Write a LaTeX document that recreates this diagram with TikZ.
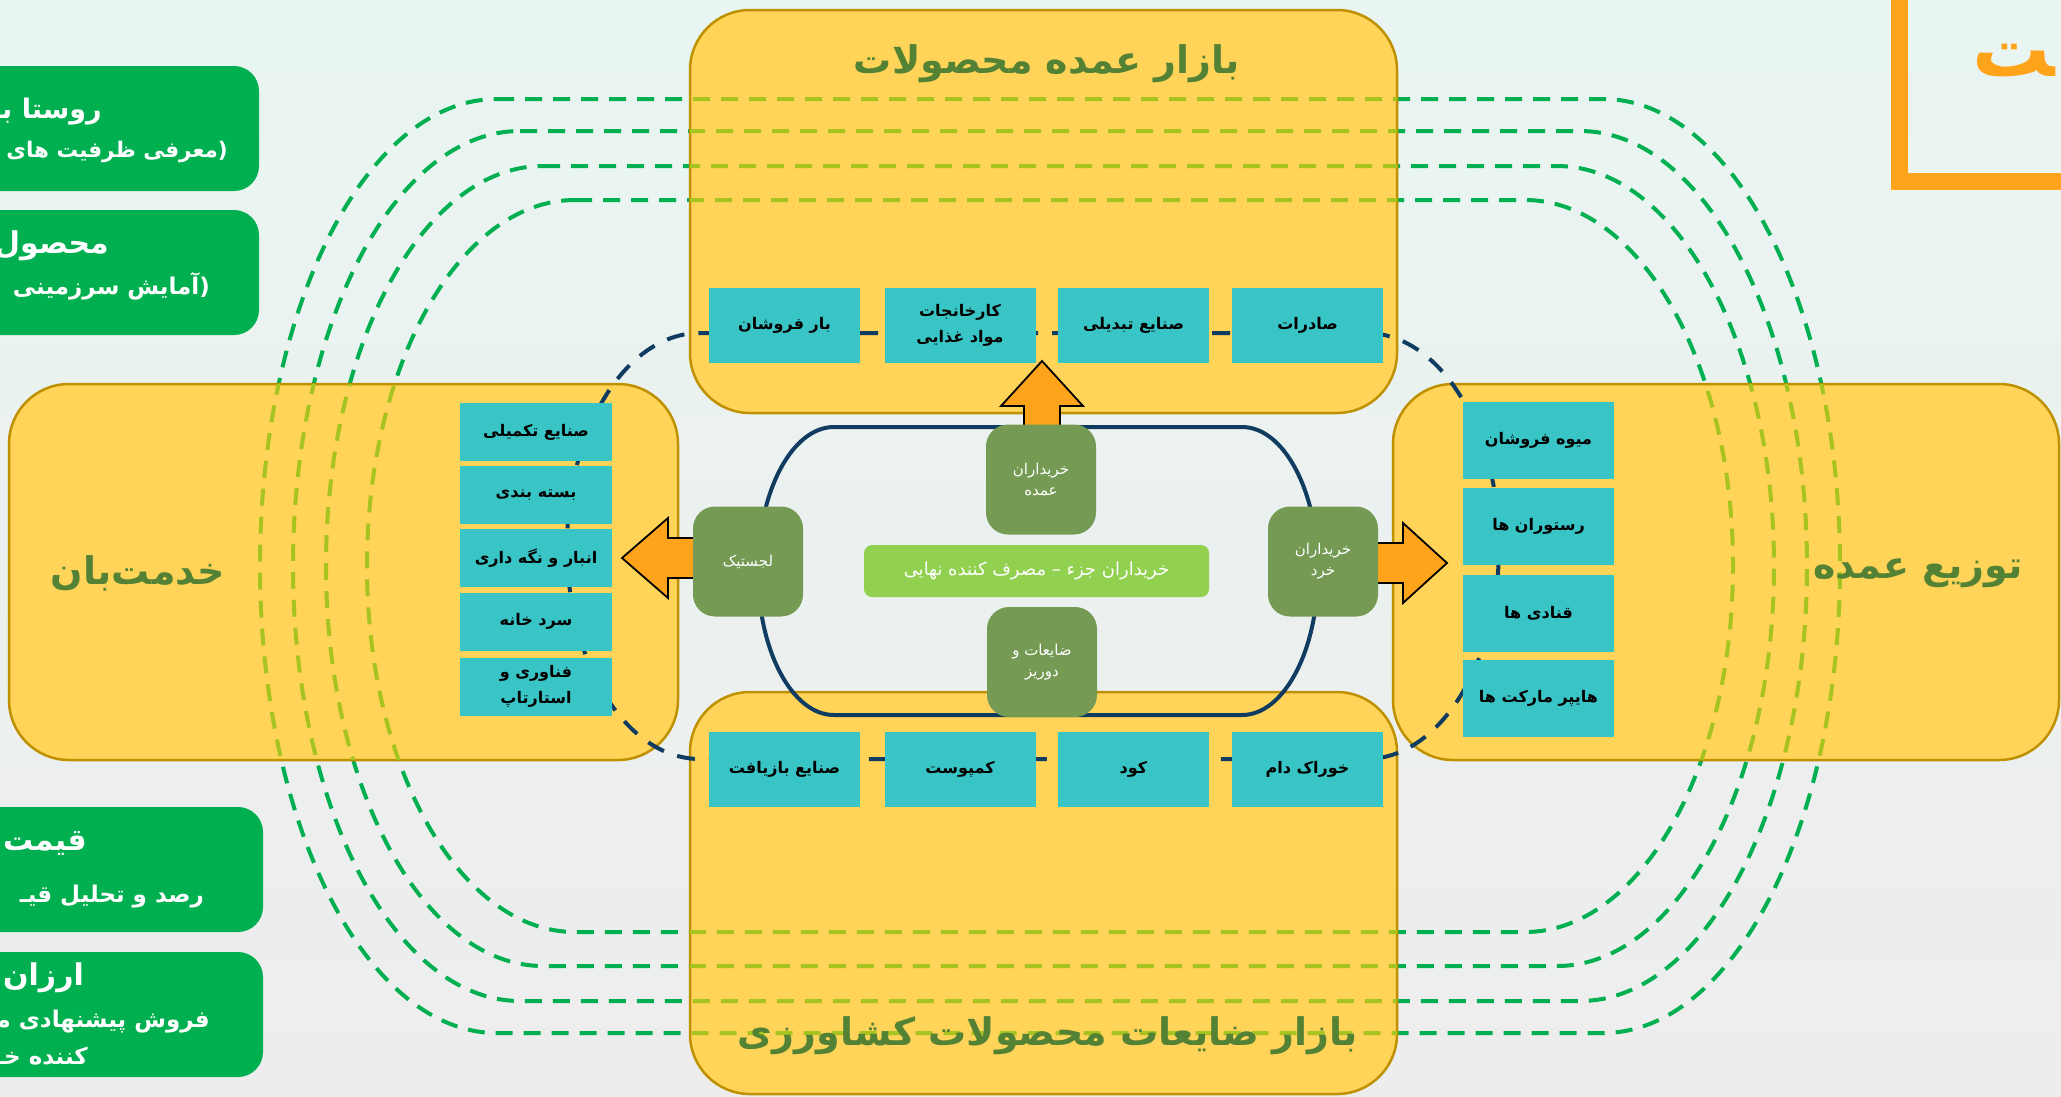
\documentclass[tikz,border=0pt]{standalone}
\usepackage{fontspec}
\newfontfamily\farsi[Script=Arabic]{DejaVu Sans}
\TeXXeTstate=1
\newcommand\myrl[1]{\beginR#1\endR}
\newcommand\mystad[5]{(#1-#3,#2-#5) -- (#1+#3,#2-#5) arc[start angle=90,end angle=-90,x radius=#4pt,y radius=#5pt] -- (#1-#3,#2+#5) arc[start angle=270,end angle=90,x radius=#4pt,y radius=#5pt] -- cycle}
\definecolor{dgreen}{RGB}{0,176,80}
\definecolor{ygreen}{RGB}{166,195,32}
\definecolor{yelc}{RGB}{255,212,88}
\definecolor{goldc}{RGB}{191,144,0}
\definecolor{tealc}{RGB}{57,196,198}
\definecolor{navyc}{RGB}{16,60,98}
\definecolor{olivec}{RGB}{116,154,84}
\definecolor{lgreen}{RGB}{146,208,80}
\definecolor{orangec}{RGB}{255,163,26}
\definecolor{titlec}{RGB}{84,130,53}
\tikzset{
 loopline/.style={line width=4pt, dash pattern=on 17pt off 11pt},
 navyloop/.style={navyc, line width=4pt, dash pattern=on 18pt off 14pt},
 ybox/.style={fill=yelc, draw=goldc, line width=2.5pt, rounded corners=60pt},
 tbox/.style={fill=tealc, inner sep=0pt, align=center, text=black, font=\farsi\bfseries\fontsize{16}{26}\selectfont},
 gnode/.style={fill=olivec, rounded corners=22pt, inner sep=0pt, align=center, text=white, minimum width=110pt, minimum height=110pt, font=\farsi\fontsize{15}{21}\selectfont},
 barnode/.style={fill=lgreen, rounded corners=8pt, inner sep=0pt, text=white, minimum width=345pt, minimum height=52pt, font=\farsi\fontsize{18}{22}\selectfont},
 blockarrow/.style={fill=orangec, draw=black, line width=1.8pt},
 ttl/.style={text=titlec, font=\farsi\bfseries\fontsize{38}{44}\selectfont, inner sep=0pt},
 gbox/.style={fill=dgreen, rounded corners=25pt},
 gbig/.style={text=white, anchor=east, inner sep=0pt, font=\farsi\bfseries\fontsize{30}{34}\selectfont},
 gsmall/.style={text=white, anchor=east, inner sep=0pt, font=\farsi\bfseries\fontsize{23}{27}\selectfont},
}
\begin{document}
\begin{tikzpicture}[x=1pt,y=-1pt]
\useasboundingbox (0,0) rectangle (2061,1096);
\clip (0,0) rectangle (2061,1096);
\shade[top color={rgb,255:red,233;green,245;blue,242}, middle color=white, bottom color={rgb,255:red,237;green,237;blue,237}] (0,0) rectangle (2061,1096);

% green dashed loops
\foreach \sa/\ra/\ha in {553/237/467,530/227/435,507/217/400,475/208/366}
  \draw[loopline, dgreen] \mystad{1050}{566}{\sa}{\ra}{\ha};

% yellow boxes
\draw[ybox] (9,384) rectangle (678,760);
\draw[ybox] (1393,384) rectangle (2059,760);
\draw[ybox] (690,10) rectangle (1397,413);
\draw[ybox] (690,692) rectangle (1397,1094);

% dashes seen through the yellow boxes
\begin{scope}
\clip[rounded corners=60pt] (9,384) rectangle (678,760) (1393,384) rectangle (2059,760) (690,10) rectangle (1397,413) (690,692) rectangle (1397,1094);
\foreach \sa/\ra/\ha in {553/237/467,530/227/435,507/217/400,475/208/366}
  \draw[loopline, ygreen] \mystad{1050}{566}{\sa}{\ra}{\ha};
\end{scope}

% titles
\node[ttl] (ttop) at (1047,64) {\myrl{بازار عمده محصولات}};
\node[ttl] (tbot) at (1048,1036) {\myrl{بازار ضایعات محصولات کشاورزی}};
\node[ttl] (tleft) at (138,573) {\myrl{خدمت^^^^200cبان}};
\node[ttl] (tright) at (1918,573) {\myrl{توزیع عمده}};

% navy loops
\draw[navyloop] \mystad{1033}{546}{333}{133}{213};
\draw[navyc, line width=4pt] \mystad{1038}{571}{204}{76}{144};

% block arrows
\draw[blockarrow] (1042,361) -- (1083,406) -- (1060,406) -- (1060,450) -- (1024,450) -- (1024,406) -- (1001,406) -- cycle;
\draw[blockarrow] (622,558) -- (668,518) -- (668,538) -- (720,538) -- (720,578) -- (668,578) -- (668,598) -- cycle;
\draw[blockarrow] (1447,563) -- (1403,523) -- (1403,543) -- (1350,543) -- (1350,583) -- (1403,583) -- (1403,603) -- cycle;

% teal boxes
\begin{scope}[every node/.append style={tbox, minimum width=151pt, minimum height=75pt}]
\node (t1) at (784.5,325.5) {\myrl{بار فروشان}};
\node (t2) at (960,325.5) {\myrl{کارخانجات}\\\myrl{مواد غذایی}};
\node (t3) at (1133.5,325.5) {\myrl{صنایع تبدیلی}};
\node (t4) at (1307.5,325.5) {\myrl{صادرات}};
\node (b1) at (784.5,769) {\myrl{صنایع بازیافت}};
\node (b2) at (960,769) {\myrl{کمپوست}};
\node (b3) at (1133.5,769) {\myrl{کود}};
\node (b4) at (1307.5,769) {\myrl{خوراک دام}};
\end{scope}
\begin{scope}[every node/.append style={tbox, minimum width=152pt, minimum height=58pt}]
\node (l1) at (536,432) {\myrl{صنایع تکمیلی}};
\node (l2) at (536,494.5) {\myrl{بسته بندی}};
\node (l3) at (536,558) {\myrl{انبار و نگه داری}};
\node (l4) at (536,621.5) {\myrl{سرد خانه}};
\node (l5) at (536,686.5) {\myrl{فناوری و}\\\myrl{استارتاپ}};
\end{scope}
\begin{scope}[every node/.append style={tbox, minimum width=151pt, minimum height=77pt}]
\node (r1) at (1538.5,440.5) {\myrl{میوه فروشان}};
\node (r2) at (1538.5,526.5) {\myrl{رستوران ها}};
\node (r3) at (1538.5,613) {\myrl{قنادی ها}};
\node (r4) at (1538.5,698) {\myrl{هایپر مارکت ها}};
\end{scope}

% central nodes
\node[gnode] (wholesale) at (1041,479.5) {\myrl{خریداران}\\\myrl{عمده}};
\node[gnode] (waste) at (1042,662) {\myrl{ضایعات و}\\\myrl{دوریز}};
\node[gnode] (logistic) at (748,561.5) {\myrl{لجستیک}};
\node[gnode] (retail) at (1323,561.5) {\myrl{خریداران}\\\myrl{خرد}};
\node[barnode] (consumer) at (1036.5,571) {\myrl{خریداران جزء – مصرف کننده نهایی}};

% left green boxes
\fill[gbox] (-40,66) rectangle (259,191);
\fill[gbox] (-40,210) rectangle (259,335);
\fill[gbox] (-40,807) rectangle (263,932);
\fill[gbox] (-40,952) rectangle (263,1077);
\node[gbig, font=\farsi\bfseries\fontsize{27}{32}\selectfont] (a1) at (102,112) {\myrl{روستا بـ}};
\node[gsmall, font=\farsi\bfseries\fontsize{21.5}{26}\selectfont] (a2) at (228,152) {\myrl{(معرفی ظرفیت های}};
\node[gbig] (b1t) at (109,246) {\myrl{محصول}};
\node[gsmall] (b2t) at (210,286) {\myrl{(آمایش سرزمینی}};
\node[gbig] (c1) at (87,843) {\myrl{قیمت}};
\node[gsmall] (c2) at (204,897) {\myrl{رصد و تحلیل قیـ}};
\node[gbig] (d1) at (84,978) {\myrl{ارزان}};
\node[gsmall] (d2) at (210,1022) {\myrl{فروش پیشنهادی مـ}};
\node[gsmall] (d3) at (88,1056) {\myrl{کننده خـ}};

% orange frame top right
\draw[orangec, line width=17pt] (1899.5,-60) rectangle (2200,181);
\node[text=orangec, anchor=base west, inner sep=0pt, font=\farsi\bfseries\fontsize{78}{80}\selectfont] (otext) at (1972,76) {\myrl{^^^^200dت}};
\end{tikzpicture}
\end{document}
